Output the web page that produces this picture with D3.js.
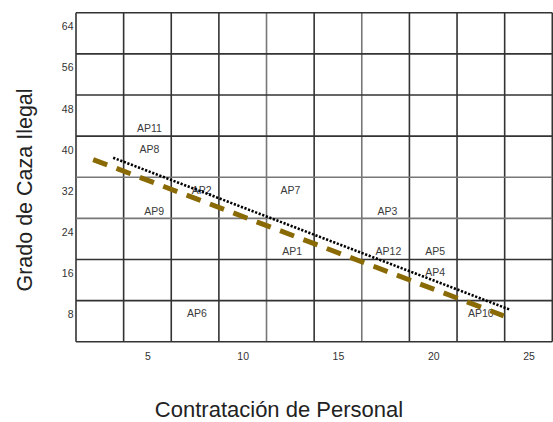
<!DOCTYPE html>
<html>
<head>
<meta charset="utf-8">
<script src="https://cdn.jsdelivr.net/npm/d3@7"></script>
<style>
  html, body { margin: 0; padding: 0; background: #fff; }
  svg { display: block; font-family: "Liberation Sans", Arial, sans-serif; }
</style>
</head>
<body>
<svg id="chart" width="553" height="422"></svg>
<script>
// ---- data ----
const pointLabels = ["AP11", "AP8", "AP9", "AP2", "AP6", "AP7", "AP1", "AP3", "AP12", "AP5", "AP4", "AP10"];
const pointX      = [5.1, 5.1, 5.35, 7.85, 7.6, 12.5, 12.6, 17.6, 17.65, 20.1, 20.1, 22.5];
const pointY      = [44.2, 40.1, 28.0, 32.2, 8.1, 32.1, 20.2, 28.0, 20.2, 20.2, 16.1, 8.2];

const dottedTrendX = [3.2, 23.99];
const dottedTrendY = [38.45, 8.95];
const dashedTrendX = [2.15, 23.7];
const dashedTrendY = [38.1, 7.7];

const xTicks = [5, 10, 15, 20, 25];
const yTicks = [8, 16, 24, 32, 40, 48, 56, 64];
const xDomain = [1.25, 26.25];
const yDomain = [2.667, 66.667];
const xGridStep = 2.5;
const yGridStep = 8;

const xTitle = "Contratación de Personal";
const yTitle = "Grado de Caza Ilegal";

// ---- layout ----
const svg = d3.select("#chart");
const plot = { left: 76, right: 552.3, top: 12.7, bottom: 341.7 };

const x = d3.scaleLinear().domain(xDomain).range([plot.left, plot.right]);
const y = d3.scaleLinear().domain(yDomain).range([plot.bottom, plot.top]);

// grid
const xGrid = d3.range(xDomain[0], xDomain[1] + 1e-6, xGridStep);
const yGrid = d3.range(yDomain[0], yDomain[1] + 1e-6, yGridStep);

const lightX = new Set([4, 6]);
const lightY = new Set([3, 4]);

svg.append("g").selectAll("line").data(xGrid).join("line")
  .attr("x1", d => x(d)).attr("x2", d => x(d))
  .attr("y1", plot.top).attr("y2", plot.bottom)
  .attr("stroke", (d, i) => lightX.has(i) ? "#777" : "#333")
  .attr("stroke-width", 1.6);

svg.append("g").selectAll("line").data(yGrid).join("line")
  .attr("y1", d => y(d)).attr("y2", d => y(d))
  .attr("x1", plot.left).attr("x2", plot.right)
  .attr("stroke", (d, i) => lightY.has(i) ? "#777" : "#333")
  .attr("stroke-width", 1.6);

// axes (labels only, using d3 axes)
const yAxis = svg.append("g")
  .attr("transform", `translate(${plot.left},0)`)
  .call(d3.axisLeft(y).tickValues(yTicks).tickSize(0).tickPadding(2.5));
yAxis.select(".domain").remove();
yAxis.selectAll("text").attr("font-size", 10.5).attr("fill", "#333")
  .attr("font-family", "Liberation Sans, Arial, sans-serif");

const xAxis = svg.append("g")
  .attr("transform", `translate(0,${plot.bottom})`)
  .call(d3.axisBottom(x).tickValues(xTicks).tickSize(0).tickPadding(11));
xAxis.select(".domain").remove();
xAxis.selectAll("text").attr("font-size", 10.5).attr("fill", "#333")
  .attr("font-family", "Liberation Sans, Arial, sans-serif");

// point labels
svg.append("g").selectAll("text").data(pointLabels).join("text")
  .attr("x", (d, i) => x(pointX[i]))
  .attr("y", (d, i) => y(pointY[i]))
  .attr("dy", "0.35em")
  .attr("text-anchor", "middle")
  .attr("font-size", 10.5)
  .attr("fill", "#3a3a3a")
  .text(d => d);

// trend lines
const line = d3.line().x(d => x(d[0])).y(d => y(d[1]));

svg.append("path")
  .datum(dashedTrendX.map((v, i) => [v, dashedTrendY[i]]))
  .attr("d", line)
  .attr("fill", "none")
  .attr("stroke", "#8a6a04")
  .attr("stroke-width", 5)
  .attr("stroke-dasharray", "15,10");

svg.append("path")
  .datum(dottedTrendX.map((v, i) => [v, dottedTrendY[i]]))
  .attr("d", line)
  .attr("fill", "none")
  .attr("stroke", "#000")
  .attr("stroke-width", 2.6)
  .attr("stroke-dasharray", "2.2,1.6");

// titles
svg.append("text")
  .attr("x", 279).attr("y", 409).attr("dy", "0.35em")
  .attr("text-anchor", "middle")
  .attr("font-size", 22).attr("fill", "#222")
  .text(xTitle);

svg.append("text")
  .attr("transform", "translate(24,190) rotate(-90)")
  .attr("dy", "0.35em")
  .attr("text-anchor", "middle")
  .attr("font-size", 21.5).attr("fill", "#222")
  .text(yTitle);
</script>
</body>
</html>
